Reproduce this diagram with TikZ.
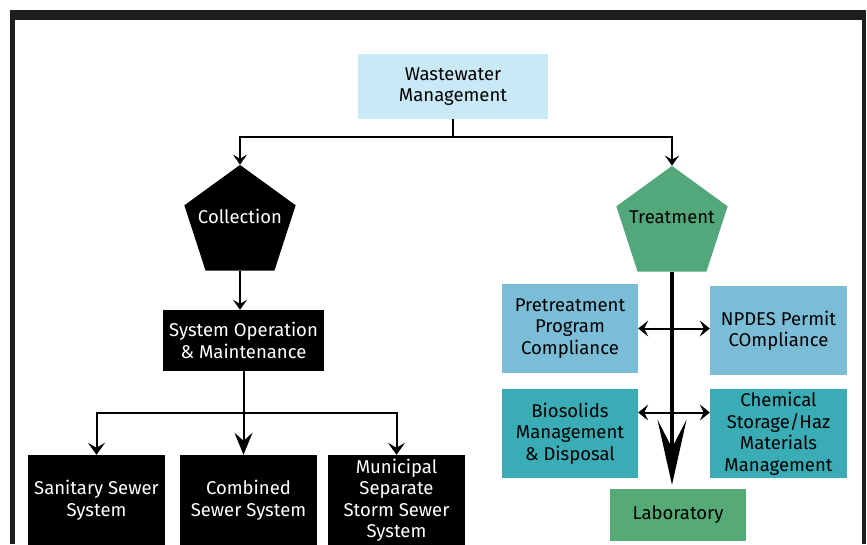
\documentclass[tikz,border=0pt]{standalone}
\usepackage{fontspec}
\setmainfont{Fira Sans}
\usetikzlibrary{shapes.geometric,arrows.meta,calc}

\definecolor{topblue}{HTML}{C9E9F7}
\definecolor{treatgreen}{HTML}{52A87A}
\definecolor{labgreen}{HTML}{55AA75}
\definecolor{lightteal}{HTML}{7BBCD6}
\definecolor{darkteal}{HTML}{3AACB5}
\definecolor{framegray}{HTML}{1E1E1E}

\begin{document}
\begin{tikzpicture}[x=1pt,y=-1pt,
  txt/.style={font=\fontsize{18.5}{21.5}\selectfont, align=center},
  box/.style={rectangle, inner sep=0pt, txt},
  blackbox/.style={box, fill=black, text=white},
  pent/.style={regular polygon, regular polygon sides=5, minimum size=117pt, inner sep=0pt},
  link/.style={line width=2pt},
  arr/.style={link, -{Stealth[length=10pt,width=14pt,inset=4pt]}},
  arrwide/.style={link, -{Stealth[length=12pt,width=17pt,inset=5pt]}},
  arrbig/.style={link, -{Stealth[length=22pt,width=18pt,inset=8pt]}},
  twoway/.style={link, {Stealth[length=10pt,width=16pt,inset=4pt]}-{Stealth[length=10pt,width=16pt,inset=4pt]}}
]
\useasboundingbox (0,0) rectangle (867,544);
\fill[white] (0,0) rectangle (867,544);

% outer frame
\fill[framegray] (10,10) rectangle (866,20);
\fill[framegray] (10,10) rectangle (15,544);
\fill[framegray] (862,10) rectangle (866,544);

% top of the hierarchy
\node[box, fill=topblue, minimum width=190pt, minimum height=65pt] (top) at (453,86.5) {Wastewater\\Management};

% the two branches
\node[pent, fill=black, label={[txt, text=white, yshift=7pt]center:Collection}] (coll) at (240,223.4) {};
\node[pent, fill=treatgreen, label={[txt, yshift=7pt]center:Treatment}] (treat) at (672,224.4) {};

\coordinate (split) at (453,137);
\draw[link] (top.south) -- (split);
\draw[arr] (split) -| (coll.corner 1);
\draw[arr] (split) -| (treat.corner 1);

% collection side
\node[blackbox, minimum width=161pt, minimum height=61pt] (som) at (243.5,340.5) {System Operation\\\& Maintenance};
\draw[arr] (coll.south) -- (coll.south |- som.north);

\node[blackbox, minimum width=137pt, minimum height=90pt] (san) at (96.5,500) {Sanitary Sewer\\System};
\node[blackbox, minimum width=137pt, minimum height=90pt] (comb) at (248.5,500) {Combined\\Sewer System};
\node[blackbox, minimum width=137pt, minimum height=90pt] (mun) at (396.5,500) {Municipal\\Separate\\Storm Sewer\\System};

\coordinate (split2) at ($(som.south)+(0,42)$);
\draw[arrbig] (som.south) -- (som.south |- comb.north);
\draw[arrwide] (split2) -| (san.north);
\draw[arrwide] (split2) -| (mun.north);

% treatment side
\node[box, fill=lightteal, minimum width=136pt, minimum height=89pt] (pre) at (570,328.5) {Pretreatment\\Program\\Compliance};
\node[box, fill=lightteal, minimum width=137pt, minimum height=89pt] (npdes) at (778.5,330.5) {NPDES Permit\\COmpliance};
\node[box, fill=darkteal, minimum width=136pt, minimum height=89pt] (bio) at (570,433.5) {Biosolids\\Management\\\& Disposal};
\node[box, fill=darkteal, minimum width=137pt, minimum height=89pt] (chem) at (778.5,433.5) {Chemical\\Storage/Haz\\Materials\\Management};
\node[box, fill=labgreen, minimum width=136pt, minimum height=52pt] (lab) at (678,515) {Laboratory};

\draw[line width=4pt, shorten >=4pt, -{Stealth[length=65pt,width=29pt,inset=28pt]}] (treat.south) -- (treat.south |- lab.north);

\coordinate (bioarrow) at ($(bio.east)+(0,-21)$);
\draw[twoway] (pre.east) -- (pre.east -| npdes.west);
\draw[twoway] (bioarrow) -- (bioarrow -| chem.west);
\end{tikzpicture}
\end{document}
